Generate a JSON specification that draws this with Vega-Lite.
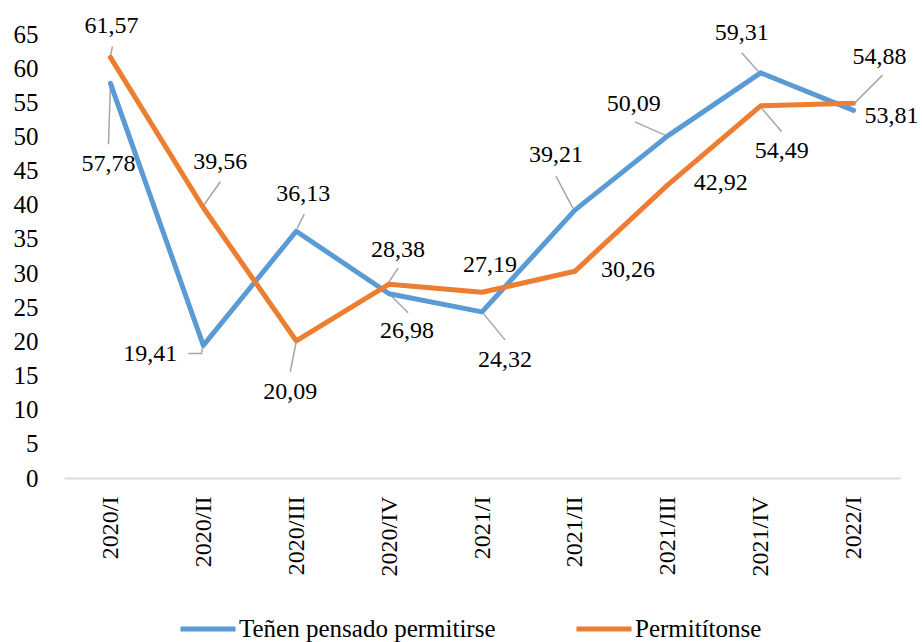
{
  "$schema": "https://vega.github.io/schema/vega-lite/v6.json",
  "width": 836,
  "height": 444,
  "autosize": {"type": "none"},
  "padding": {"left": 64, "top": 34, "right": 22, "bottom": 164},
  "background": "white",
  "config": {
    "view": {"stroke": null},
    "font": "Liberation Serif",
    "locale": {"number": {"decimal": ",", "thousands": ".", "grouping": [3], "currency": ["", " €"]}}
  },
  "data": {
    "values": [
      {"period": "2020/I", "series": "Teñen pensado permitirse", "value": 57.78},
      {"period": "2020/II", "series": "Teñen pensado permitirse", "value": 19.41},
      {"period": "2020/III", "series": "Teñen pensado permitirse", "value": 36.13},
      {"period": "2020/IV", "series": "Teñen pensado permitirse", "value": 26.98},
      {"period": "2021/I", "series": "Teñen pensado permitirse", "value": 24.32},
      {"period": "2021/II", "series": "Teñen pensado permitirse", "value": 39.21},
      {"period": "2021/III", "series": "Teñen pensado permitirse", "value": 50.09},
      {"period": "2021/IV", "series": "Teñen pensado permitirse", "value": 59.31},
      {"period": "2022/I", "series": "Teñen pensado permitirse", "value": 53.81},
      {"period": "2020/I", "series": "Permitítonse", "value": 61.57},
      {"period": "2020/II", "series": "Permitítonse", "value": 39.56},
      {"period": "2020/III", "series": "Permitítonse", "value": 20.09},
      {"period": "2020/IV", "series": "Permitítonse", "value": 28.38},
      {"period": "2021/I", "series": "Permitítonse", "value": 27.19},
      {"period": "2021/II", "series": "Permitítonse", "value": 30.26},
      {"period": "2021/III", "series": "Permitítonse", "value": 42.92},
      {"period": "2021/IV", "series": "Permitítonse", "value": 54.49},
      {"period": "2022/I", "series": "Permitítonse", "value": 54.88}
    ]
  },
  "encoding": {
    "x": {
      "field": "period",
      "type": "ordinal",
      "sort": null,
      "scale": {"type": "point", "padding": 0.5},
      "axis": {
        "title": null,
        "labelAngle": -90,
        "labelFont": "Liberation Serif",
        "labelFontSize": 24,
        "labelColor": "black",
        "ticks": false,
        "labelPadding": 18,
        "domainColor": "#d9d9d9",
        "domainWidth": 2,
        "grid": false
      }
    },
    "y": {
      "field": "value",
      "type": "quantitative",
      "scale": {"domain": [0, 65], "nice": false},
      "axis": {
        "title": null,
        "values": [0, 5, 10, 15, 20, 25, 30, 35, 40, 45, 50, 55, 60, 65],
        "domain": false,
        "ticks": false,
        "grid": false,
        "labelFont": "Liberation Serif",
        "labelFontSize": 25,
        "labelColor": "black",
        "labelPadding": 26
      }
    }
  },
  "layer": [
    {
      "mark": {
        "type": "point",
        "filled": false,
        "stroke": "#a6a6a6",
        "strokeWidth": 1.5,
        "size": 4,
        "opacity": 1,
        "shape": {"expr": "(datum.series === 'Permitítonse' ? ['M0,-1L2,-11','M0,-2L17,-26','M0,1L-6,31','M-1,-1L9,-16','M0,0','M0,0','M0,0','M-1,0L21,26','M2,-1L29,-28'] : ['M0,3L-2,61','M0,0L-2,8L-15,8','M1,-3L8,-17','M1,1L19,19','M0,0L23,28','M-2,-2L-19,-34','M-1,0L-33,-14','M-2,-1L-19,-20','M0,0'])[indexof(['2020/I','2020/II','2020/III','2020/IV','2021/I','2021/II','2021/III','2021/IV','2022/I'], datum.period)]"}
      }
    },
    {
      "mark": {"type": "line", "strokeWidth": 5, "strokeCap": "round", "strokeJoin": "round"},
      "encoding": {
        "color": {
          "field": "series",
          "type": "nominal",
          "sort": null,
          "scale": {"domain": ["Teñen pensado permitirse", "Permitítonse"], "range": ["#5B9BD5", "#ED7D31"]},
          "legend": {
            "orient": "none",
            "legendX": 114,
            "legendY": 565,
            "direction": "horizontal",
            "title": null,
            "symbolType": "stroke",
            "symbolSize": 3025,
            "symbolStrokeWidth": 5,
            "labelFont": "Liberation Serif",
            "labelFontSize": 25,
            "labelColor": "black",
            "labelOffset": 1,
            "columnPadding": 70,
            "padding": 0,
            "labelLimit": 400
          }
        }
      }
    },
    {
      "mark": {
        "type": "text",
        "font": "Liberation Serif",
        "fontSize": 24,
        "color": "black",
        "align": "center",
        "baseline": "middle",
        "dx": {"expr": "(datum.series === 'Permitítonse' ? [1,17,-6,9,8,53,53,21,26] : [-2,-53,7,18,23,-19,-34,-19,38])[indexof(['2020/I','2020/II','2020/III','2020/IV','2021/I','2021/II','2021/III','2021/IV','2022/I'], datum.period)]"},
        "dy": {"expr": "(datum.series === 'Permitítonse' ? [-31,-46,51,-34,-27,-1,-2,45,-46] : [81,9,-37,37,48,-55,-32,-40,6])[indexof(['2020/I','2020/II','2020/III','2020/IV','2021/I','2021/II','2021/III','2021/IV','2022/I'], datum.period)]"}
      },
      "encoding": {
        "text": {"field": "value", "type": "quantitative", "format": ".2f"}
      }
    }
  ]
}
